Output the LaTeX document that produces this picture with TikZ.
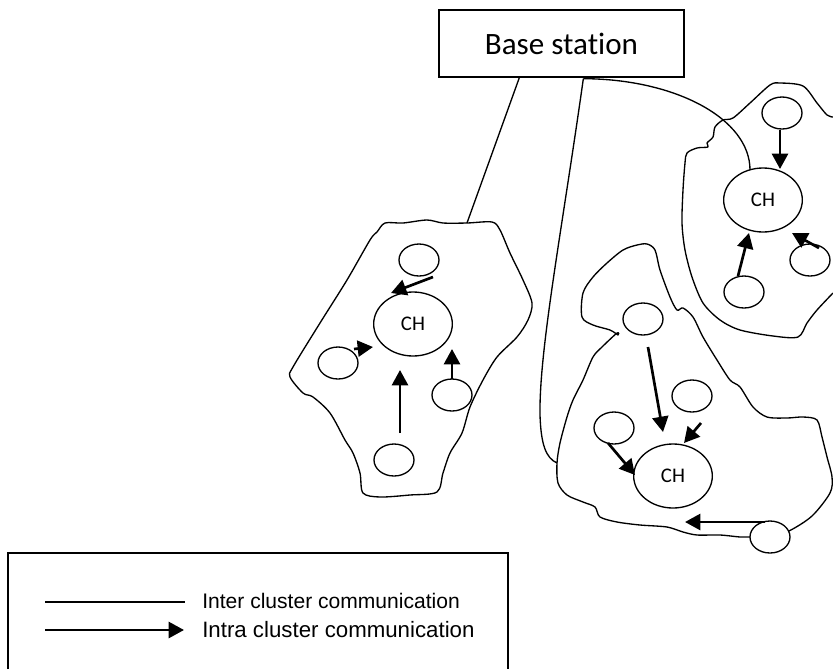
\documentclass[tikz,border=0pt]{standalone}
\usepackage{fontspec}
\setmainfont{Carlito}[Ligatures=NoCommon]
\newfontfamily\legendfont{Liberation Sans}
\usetikzlibrary{shapes.geometric,arrows.meta,calc}

\begin{document}
\begin{tikzpicture}[x=0.75pt,y=-0.75pt,
  sensor/.style={ellipse,draw,line width=1pt,minimum width=30pt,minimum height=24pt,inner sep=0pt},
  head/.style={ellipse,draw,line width=1pt,minimum width=59pt,minimum height=48pt,inner sep=0pt,
    font=\fontsize{15.6pt}{18pt}\selectfont},
  station/.style={draw,line width=1pt,minimum width=183.75pt,minimum height=50.25pt,inner sep=0pt,
    font=\fontsize{23.3pt}{28pt}\selectfont},
  outline/.style={line width=1pt,line join=round},
  link/.style={line width=1pt},
  arr/.style={line width=2pt,-{Triangle[length=11.5pt,width=12pt]}},
  legendtext/.style={anchor=base west,inner sep=0pt},
]
\useasboundingbox (0,0) rectangle (833,669);

% ---------- base station ----------
\node[station] (bs) at (561.5,43.5) {Base station};

% ---------- cluster outlines ----------
% left cluster
\draw[outline] plot[smooth cycle,tension=0.5] coordinates {
  (385,223) (403,223) (427,220) (443,223) (467,223) (492,222) (500,230)
  (510,253) (523,280) (532,303) (528,320) (517,337) (497,357) (483,380)
  (470,407) (462,433) (450,453) (443,473) (437,492) (410,495) (380,497)
  (363,493) (360,473) (353,453) (345,440) (330,413) (313,397) (303,393)
  (290,377) (293,367) (320,323) (347,280) (370,240) (377,232)};

% upper right cluster (runs off the right edge)
\draw[outline] plot[smooth,tension=0.5] coordinates {
  (833,117) (827,115) (817,103) (803,86) (780,83) (770,85) (750,103)
  (733,118) (723,120) (715,127) (713,137) (707,143) (708,147) (697,148)
  (687,153) (685,163) (683,190) (682,223) (685,250) (692,277) (703,303)
  (720,320) (740,330) (773,336) (798,337) (807,323) (817,310) (833,293)};

% lower right cluster
\draw[outline] plot[smooth cycle,tension=0.5] coordinates {
  (618,335) (610,330) (593,325) (582,317) (583,293) (593,277) (607,263)
  (623,250) (637,245) (647,244) (655,250) (660,270) (670,297) (677,310)
  (683,308) (693,317) (703,337) (717,360) (730,380) (740,387) (753,407)
  (767,417) (787,418) (803,417) (817,420) (822,437) (827,457) (832,477)
  (830,493) (812,516) (789,531) (770,537) (749,537) (740,537) (720,535)
  (697,535) (683,532) (667,527) (640,525) (617,522) (600,517) (595,507)
  (583,502) (567,495) (558,483) (557,463) (560,443) (567,417) (573,400)
  (583,380) (593,357) (602,347) (617,333)};

% ---------- cluster heads ----------
\node[head] (chL)  at (413,324) {CH};
\node[head] (chTR) at (763,200) {CH};
\node[head] (chBR) at (673,476) {CH};

% ---------- member nodes ----------
\node[sensor] (nLT) at (419,260) {};
\node[sensor] (nLL) at (338,363) {};
\node[sensor] (nLR) at (452,395) {};
\node[sensor] (nLB) at (394,460) {};

\node[sensor] (nTRa) at (782,113) {};
\node[sensor] (nTRb) at (744,292) {};
\node[sensor] (nTRc) at (810,260) {};

\node[sensor] (nBRa) at (643,319) {};
\node[sensor] (nBRb) at (692,396) {};
\node[sensor] (nBRc) at (614,428) {};
\node[sensor,fill=white] (nBRd) at (770,537) {};

% ---------- intra cluster communication ----------
\draw[arr] ($(nLT)+(14,17)$) -- ($(chL)+(-22,-31)$);
\draw[arr] ($(nLL)+(16,-14)$) -- ($(chL)+(-40,23)$);
\draw[arr] ($(nLR)+(0,-16)$) -- ($(chL)+(39,25)$);
\draw[arr] ($(nLB)+(6,-27)$) -- ($(chL)+(-13,46)$);

\draw[arr] ($(nTRa)+(-2,17)$) -- ($(chTR)+(17,-31)$);
\draw[arr] ($(nTRb)+(-6,-16)$) -- ($(chTR)+(-14,33)$);
\draw[arr] ($(nTRc)+(9,-12)$) -- ($(chTR)+(29,33)$);

\draw[arr] ($(nBRa)+(5,28)$) -- ($(chBR)+(-10,-44)$);
\draw[arr] ($(nBRb)+(9,27)$) -- ($(chBR)+(11,-33)$);
\draw[arr] ($(nBRc)+(-6,15)$) -- ($(chBR)+(-38,-1)$);
\draw[arr] ($(nBRd)+(-5,-15)$) -- ($(chBR)+(12,46)$);

% ---------- inter cluster communication ----------
\coordinate (bsA) at ($(bs.south west)+(81,0)$);
\coordinate (bsB) at ($(bs.south west)+(145,1)$);
\coordinate (edgeL) at (467,223);
\coordinate (edgeBR) at (557,463);

\draw[link] (bsA) -- (edgeL);
\draw[link] (bsB) .. controls (562,230) and (539,350) .. (540,415)
  .. controls (541,445) and (546,458) .. (edgeBR);
\draw[link] (bsB) .. controls (676,79) and (750,119) .. ($(chTR)+(-13,-30)$);

% ---------- legend ----------
\draw[line width=1pt] (8,669) -- (8,553) -- (508,553) -- (508,669);
\coordinate (lgA1) at (45,602);
\coordinate (lgA2) at (185,602);
\coordinate (lgB1) at (45,630);
\coordinate (lgB2) at (184,630);
\draw[line width=1.3pt] (lgA1) -- (lgA2);
\draw[arr] (lgB1) -- (lgB2);
\node[legendtext,font=\legendfont\fontsize{15.8pt}{19pt}\selectfont] (lgInter) at (202,608)
  {Inter cluster communication};
\node[legendtext,font=\legendfont\fontsize{16.7pt}{20pt}\selectfont] (lgIntra) at (202,637)
  {Intra cluster communication};
\end{tikzpicture}
\end{document}
